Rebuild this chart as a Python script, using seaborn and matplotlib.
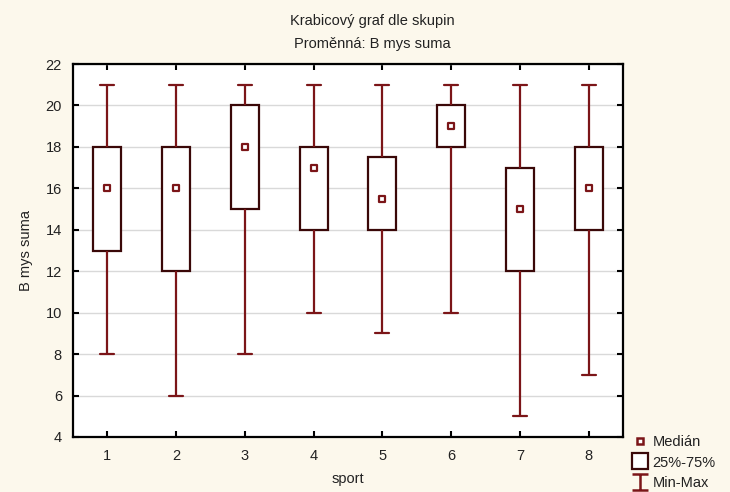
import numpy as np
import pandas as pd
import seaborn as sns
import matplotlib
matplotlib.use("Agg")
import matplotlib.pyplot as plt
from matplotlib.lines import Line2D
from matplotlib.path import Path

# Summary statistics per sport group
sports = ["1", "2", "3", "4", "5", "6", "7", "8"]
minimum = [8, 6, 8, 10, 9, 10, 5, 7]
q1 = [13, 12, 15, 14, 14, 18, 12, 14]
median = [16, 16, 18, 17, 15.5, 19, 15, 16]
q3 = [18, 18, 20, 18, 17.5, 20, 17, 18]
maximum = [21, 21, 21, 21, 21, 21, 21, 21]
y_ticks = [4, 6, 8, 10, 12, 14, 16, 18, 20, 22]

BG = "#fcf8ec"
WHISKER = "#7b1518"
BOXEDGE = "#3a0808"
TEXT = "#222222"

sns.set_theme(style="white")
plt.rcParams["font.family"] = ["Liberation Sans", "DejaVu Sans"]

# Five summary values per group: linear percentiles reproduce the quartiles exactly
rows = []
for s, a, b, c, d, e in zip(sports, minimum, q1, median, q3, maximum):
    for v in (a, b, c, d, e):
        rows.append({"sport": s, "value": v})
df = pd.DataFrame(rows)

fig = plt.figure(figsize=(7.3, 4.92), dpi=100, facecolor=BG)
ax = fig.add_axes([0.1, 0.1118, 0.7534, 0.758])
ax.set_facecolor("white")

ax.yaxis.grid(True, color="#d9d9d9", linewidth=1.0, zorder=0)
ax.set_axisbelow(True)

sns.boxplot(
    data=df, x="sport", y="value", order=sports, ax=ax,
    whis=(0, 100), width=0.41, color="white", linecolor=BOXEDGE,
    linewidth=1.6, showfliers=False,
    medianprops=dict(visible=False),
    whiskerprops=dict(color=WHISKER, linewidth=1.6),
    capprops=dict(color=WHISKER, linewidth=1.6),
    boxprops=dict(facecolor="white", edgecolor=BOXEDGE, linewidth=1.6),
)

# Median markers
sns.scatterplot(
    x=np.arange(len(sports)), y=median, ax=ax, marker="s", s=22,
    color="white", edgecolor=WHISKER, linewidth=1.6, zorder=5, legend=False,
)

ax.set_xlim(-0.5, len(sports) - 0.5)
ax.set_ylim(4, 22)
ax.set_yticks(y_ticks)
ax.set_xticks(range(len(sports)))
ax.set_xticklabels(sports)

for sp in ax.spines.values():
    sp.set_visible(True)
    sp.set_color("black")
    sp.set_linewidth(1.6)

ax.tick_params(axis="both", which="both", direction="in", length=4, width=1.5,
               colors="black", labelcolor=TEXT, labelsize=10.5,
               top=True, right=True, bottom=True, left=True,
               labeltop=False, labelright=False)
ax.tick_params(axis="x", pad=9)
ax.tick_params(axis="y", pad=8)

ax.set_xlabel("sport", fontsize=10.5, color=TEXT, labelpad=6)
ax.set_ylabel("B mys suma", fontsize=10.5, color=TEXT, labelpad=9)

fig.text(0.51, 0.958, "Krabicový graf dle skupin", ha="center", va="center",
         fontsize=10.5, color=TEXT)
fig.text(0.51, 0.91, "Proměnná: B mys suma", ha="center", va="center",
         fontsize=10.5, color=TEXT)

# Legend below the plot on the right
ibeam = Path([(-0.5, 0.5), (0.5, 0.5), (0, 0.5), (0, -0.5), (-0.5, -0.5), (0.5, -0.5)],
             [Path.MOVETO, Path.LINETO, Path.MOVETO, Path.LINETO, Path.MOVETO, Path.LINETO])
handles = [
    Line2D([], [], linestyle="none", marker="s", markersize=5,
           markerfacecolor="white", markeredgecolor=WHISKER, markeredgewidth=1.8),
    Line2D([], [], linestyle="none", marker="s", markersize=11,
           markerfacecolor="white", markeredgecolor=BOXEDGE, markeredgewidth=1.6),
    Line2D([], [], linestyle="none", marker=ibeam, markersize=11,
           markerfacecolor="none", markeredgecolor=WHISKER, markeredgewidth=1.8),
]
fig.legend(handles, ["Medián", "25%-75%", "Min-Max"], loc="lower left",
           bbox_to_anchor=(0.853, -0.016), frameon=False, fontsize=10.5,
           handlelength=1.0, handletextpad=0.35, labelspacing=0.42,
           borderpad=0.2, labelcolor=TEXT)

fig.savefig("out.png", dpi=100, facecolor=BG)
